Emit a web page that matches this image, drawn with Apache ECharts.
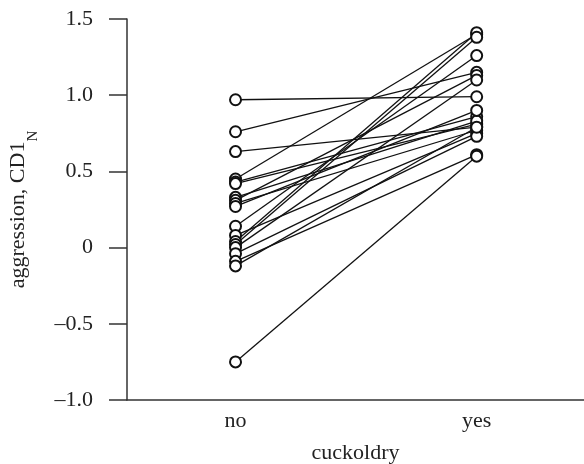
<!DOCTYPE html>
<html>
<head>
<meta charset="utf-8">
<script src="https://cdn.jsdelivr.net/npm/echarts@6/dist/echarts.min.js"></script>
<style>html,body{margin:0;padding:0;background:#fff}#c{width:584px;height:464px}</style>
</head>
<body>
<div id="c"></div>
<script>
var categories = ['no', 'yes'];
var noValues  = [0.97, 0.76, 0.63, 0.45, 0.43, 0.42, 0.33, 0.31, 0.29, 0.27, 0.14, 0.08, 0.04, 0.02, 0.00, -0.04, -0.09, -0.12, -0.75];
var yesValues = [0.99, 1.15, 0.79, 1.40, 0.86, 0.81, 0.83, 1.13, 0.77, 0.90, 1.26, 0.75, 1.41, 1.38, 1.10, 0.73, 0.61, 0.79, 0.60];
var yTicks = [-1.0, -0.5, 0, 0.5, 1.0, 1.5];

var FONT = 'Liberation Serif';
var series = noValues.map(function (v, i) {
  return {
    type: 'line',
    data: [[0, v], [1, yesValues[i]]],
    symbol: 'emptyCircle',
    symbolSize: 11,
    showSymbol: true,
    clip: false,
    silent: true,
    lineStyle: { color: '#111', width: 1.3 },
    itemStyle: { color: '#111', borderColor: '#111', borderWidth: 2 }
  };
});

var chart = echarts.init(document.getElementById('c'));
chart.setOption({
  animation: false,
  backgroundColor: '#fff',
  grid: { left: 127, right: 0, top: 19, bottom: 64, containLabel: false, outerBoundsMode: 'none' },
  xAxis: {
    type: 'value',
    min: -0.45, max: 1.445,
    splitLine: { show: false },
    axisLine: { onZero: false, lineStyle: { color: '#333', width: 1.5 } },
    axisTick: { show: false },
    axisLabel: {
      customValues: [0, 1],
      formatter: function (v) { return categories[Math.round(v)] || ''; },
      color: '#222', fontFamily: FONT, fontSize: 22, margin: 10
    },
    name: 'cuckoldry', nameLocation: 'middle', nameGap: 42,
    nameTextStyle: { color: '#222', fontFamily: FONT, fontSize: 22 }
  },
  yAxis: {
    type: 'value',
    min: yTicks[0], max: yTicks[yTicks.length - 1], interval: 0.5,
    splitLine: { show: false },
    axisLine: { onZero: false, lineStyle: { color: '#333', width: 1.5 } },
    axisTick: { show: true, length: 18, lineStyle: { color: '#333', width: 1.5 } },
    axisLabel: {
      formatter: function (v) {
        if (Math.abs(v) < 1e-9) return '0';
        return (v < 0 ? '\u2013' : '') + Math.abs(v).toFixed(1);
      },
      color: '#222', fontFamily: FONT, fontSize: 22, margin: 34
    },
    name: '{a|aggression, CD1}{s|N}', nameLocation: 'middle', nameGap: 86, nameRotate: 90,
    nameTextStyle: {
      color: '#222', fontFamily: FONT, fontSize: 22,
      rich: {
        a: { fontFamily: FONT, fontSize: 22, color: '#222', lineHeight: 22, verticalAlign: 'top' },
        s: { fontFamily: FONT, fontSize: 15, color: '#222', lineHeight: 34, verticalAlign: 'bottom' }
      }
    }
  },
  series: series
});
</script>
</body>
</html>
